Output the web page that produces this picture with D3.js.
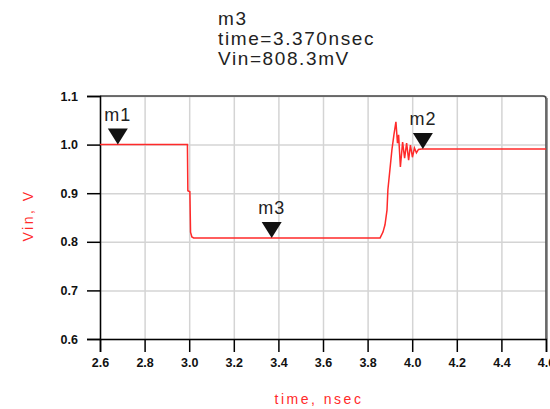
<!doctype html>
<html lang="en">
<head>
<meta charset="utf-8">
<title>Vin transient</title>
<script src="https://d3js.org/d3.v7.min.js"></script>
<style>
  body { margin: 0; background: #fff; }
  text { font-family: "Liberation Sans", Arial, sans-serif; }
</style>
</head>
<body>
<svg width="550" height="409"></svg>
<script>
// waveform (time in nsec, Vin in V)
var timeNs = [2.6, 2.992, 2.994, 3.003, 3.006, 3.012, 3.020, 3.856, 3.869, 3.878, 3.887, 3.891,
              3.900, 3.909, 3.918, 3.927, 3.934, 3.939, 3.947, 3.957, 3.966, 3.975, 3.984,
              3.992, 4.001, 4.010, 4.019, 4.028, 4.042, 4.6];
var vinV   = [1.0, 1.0, 0.905, 0.903, 0.82, 0.81, 0.808, 0.808, 0.82, 0.835, 0.865, 0.907,
              0.948, 0.989, 1.02, 1.047, 1.003, 1.02, 0.954, 1.005, 0.972, 1.003, 0.968,
              0.999, 0.974, 0.993, 0.983, 0.990, 0.991, 0.991];

var xTicks = [2.6, 2.8, 3.0, 3.2, 3.4, 3.6, 3.8, 4.0, 4.2, 4.4, 4.6];
var yTicks = [0.6, 0.7, 0.8, 0.9, 1.0, 1.1];

var markerNames  = ["m1", "m2", "m3"];
var markerTimes  = [2.68, 4.048, 3.37];
var markerValues = [1.0, 0.991, 0.808];

var readout = ["m3", "time=3.370nsec", "Vin=808.3mV"];

var svg = d3.select("svg");
var pL = 100, pR = 546, pT = 96, pB = 339;
var red = "#ff2a2a";

var x = d3.scaleLinear().domain([2.6, 4.6]).range([pL, pR]);
var y = d3.scaleLinear().domain([0.6, 1.1]).range([pB, pT]);

// grid
svg.append("g")
    .attr("transform", "translate(0," + pB + ")")
    .call(d3.axisBottom(x).tickValues(xTicks).tickSize(-(pB - pT)).tickFormat(""))
    .call(function(g) {
      g.select(".domain").remove();
      g.selectAll("line").attr("stroke", "#d4d4d4").attr("stroke-width", 1.5);
    });
svg.append("g")
    .attr("transform", "translate(" + pL + ",0)")
    .call(d3.axisLeft(y).tickValues(yTicks).tickSize(-(pR - pL)).tickFormat(""))
    .call(function(g) {
      g.select(".domain").remove();
      g.selectAll("line").attr("stroke", "#d4d4d4").attr("stroke-width", 1.5);
    });

// frame top/right
svg.append("path")
    .attr("d", "M" + pL + "," + pT + "H" + (pR - 3) + "Q" + pR + "," + pT + " " + pR + "," + (pT + 3) + "V" + pB)
    .attr("fill", "none")
    .attr("stroke", "#444")
    .attr("stroke-width", 1.5);
svg.append("line")
    .attr("x1", pR + 1.5).attr("x2", pR + 1.5).attr("y1", pT + 2).attr("y2", pB)
    .attr("stroke", "#999").attr("stroke-width", 1);

// axes
var axisX = svg.append("g")
    .attr("transform", "translate(0," + pB + ")")
    .call(d3.axisBottom(x).tickValues(xTicks).tickSize(13).tickPadding(6).tickFormat(d3.format(".1f")));
var axisY = svg.append("g")
    .attr("transform", "translate(" + pL + ",0)")
    .call(d3.axisLeft(y).tickValues(yTicks).tickSize(13).tickPadding(9).tickFormat(d3.format(".1f")));
[axisX, axisY].forEach(function(g) {
  g.selectAll("path, line").attr("stroke", "#000").attr("stroke-width", 1.5);
  g.selectAll("text").attr("fill", "#111").style("font-size", "12.5px").style("font-weight", "bold")
      .style("font-family", "'Liberation Sans', Arial, sans-serif");
});

// waveform
var pts = timeNs.map(function(t, i) { return [t, vinV[i]]; });
svg.append("path")
    .datum(pts)
    .attr("fill", "none")
    .attr("stroke", red)
    .attr("stroke-width", 1.5)
    .attr("d", d3.line().x(function(d) { return x(d[0]); }).y(function(d) { return y(d[1]); }));

// markers
markerNames.forEach(function(name, i) {
  var mx = x(markerTimes[i]), my = y(markerValues[i]);
  svg.append("path")
      .attr("d", "M" + (mx - 10) + "," + (my - 16) + "H" + (mx + 10) + "L" + mx + "," + my + "Z")
      .attr("fill", "#111");
  svg.append("text")
      .attr("x", mx).attr("y", my - 24)
      .attr("text-anchor", "middle")
      .style("font-size", "18px")
      .style("letter-spacing", "1px")
      .attr("fill", "#222")
      .text(name);
});

// readout block
svg.selectAll(".readout")
    .data(readout)
    .enter().append("text")
    .attr("class", "readout")
    .attr("x", 218)
    .attr("y", function(d, i) { return 25 + i * 20; })
    .style("font-size", "19px")
    .style("letter-spacing", "1.6px")
    .attr("fill", "#222")
    .text(function(d) { return d; });

// axis titles
svg.append("text")
    .attr("x", (pL + pR) / 2 - 4).attr("y", 404)
    .attr("text-anchor", "middle")
    .style("font-size", "14px").style("letter-spacing", "2.5px")
    .attr("fill", red)
    .text("time, nsec");
svg.append("text")
    .attr("transform", "translate(33," + ((pT + pB) / 2 - 2) + ") rotate(-90)")
    .attr("text-anchor", "middle")
    .style("font-size", "14px").style("letter-spacing", "2.5px")
    .attr("fill", red)
    .text("Vin, V");
</script>
</body>
</html>
